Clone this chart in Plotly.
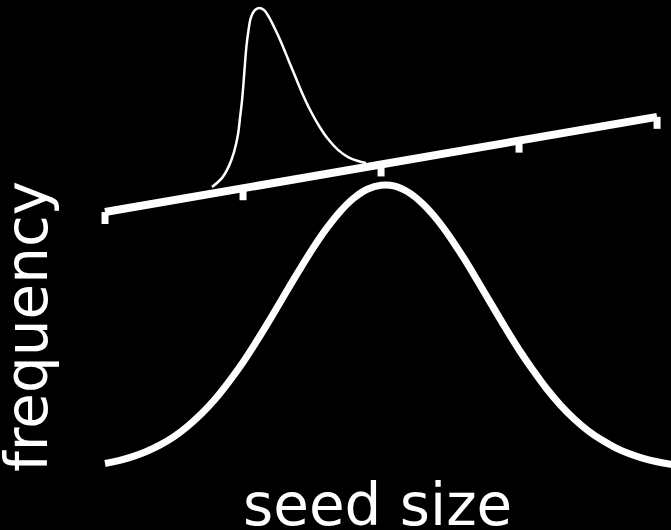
import plotly.graph_objects as go

# Population-level distribution of seed size (broad, symmetric)
pop_size = [1.0, 1.1, 1.2, 1.3, 1.4, 1.5, 1.6, 1.7, 1.8, 1.9, 2.0, 2.1, 2.2, 2.3, 2.4,
            2.5, 2.6, 2.7, 2.8, 2.9, 3.0, 3.1, 3.2, 3.3, 3.4, 3.5, 3.6, 3.7, 3.8, 3.9,
            4.0, 4.1, 4.2, 4.3, 4.4, 4.5, 4.6, 4.7, 4.8, 4.9, 5.0, 5.1, 5.2, 5.3]
pop_freq = [0.023, 0.033, 0.047, 0.065, 0.088, 0.117, 0.154, 0.198, 0.250, 0.311,
            0.378, 0.453, 0.532, 0.614, 0.695, 0.773, 0.844, 0.905, 0.953, 0.985,
            0.999, 0.996, 0.974, 0.935, 0.882, 0.817, 0.743, 0.663, 0.581, 0.500,
            0.422, 0.351, 0.285, 0.228, 0.179, 0.138, 0.105, 0.078, 0.057, 0.041,
            0.029, 0.020, 0.013, 0.009]

# Individual plant's distribution, drawn on the tilted inset axis (skewed, narrow)
ind_size = [1.775, 1.848, 1.899, 1.935, 1.964, 1.978, 1.993, 2.004, 2.014, 2.025,
            2.040, 2.058, 2.087, 2.116, 2.152, 2.188, 2.232, 2.275, 2.326, 2.377,
            2.428, 2.486, 2.551, 2.616, 2.688, 2.761, 2.833, 2.891]
ind_freq = [0.993, 1.025, 1.068, 1.116, 1.179, 1.235, 1.298, 1.361, 1.425, 1.488,
            1.544, 1.589, 1.614, 1.621, 1.614, 1.589, 1.547, 1.502, 1.442, 1.382,
            1.323, 1.263, 1.207, 1.161, 1.123, 1.098, 1.084, 1.077]

# Tilted inset axis: end points and tick positions along seed size
inset_axis_x = [1.0, 5.0]
inset_axis_y = [0.905, 1.239]
inset_ticks = [1, 2, 3, 4, 5]
tick_len = 0.042

fig = go.Figure()

fig.add_trace(go.Scatter(
    x=pop_size, y=pop_freq, mode="lines",
    line=dict(color="white", width=7, shape="spline", smoothing=1.0),
    hoverinfo="skip"))

fig.add_trace(go.Scatter(
    x=ind_size, y=ind_freq, mode="lines",
    line=dict(color="white", width=2.5, shape="spline", smoothing=1.0),
    hoverinfo="skip"))

fig.add_trace(go.Scatter(
    x=inset_axis_x, y=inset_axis_y, mode="lines",
    line=dict(color="white", width=8),
    hoverinfo="skip"))

# Tick stubs hanging below the inset axis
slope = (inset_axis_y[1] - inset_axis_y[0]) / (inset_axis_x[1] - inset_axis_x[0])
tx, ty = [], []
for t in inset_ticks:
    yb = inset_axis_y[0] + (t - inset_axis_x[0]) * slope
    tx += [t, t, None]
    ty += [yb, yb - tick_len, None]
fig.add_trace(go.Scatter(
    x=tx, y=ty, mode="lines",
    line=dict(color="white", width=7),
    hoverinfo="skip"))

font = dict(family="DejaVu Sans", size=58, color="white")
fig.add_annotation(text="frequency", xref="paper", yref="paper",
                   x=0.040, y=0.385, textangle=-90, showarrow=False,
                   xanchor="center", yanchor="middle", font=font)
fig.add_annotation(text="seed size", xref="paper", yref="paper",
                   x=0.5625, y=0.047, showarrow=False,
                   xanchor="center", yanchor="middle", font=font)

fig.update_layout(
    width=671, height=530,
    margin=dict(l=0, r=0, t=0, b=0),
    paper_bgcolor="black", plot_bgcolor="black",
    showlegend=False,
    xaxis=dict(range=[0.239, 5.101], visible=False, fixedrange=True),
    yaxis=dict(range=[-0.2105, 1.649], visible=False, fixedrange=True),
)

fig.write_html("out.html")
